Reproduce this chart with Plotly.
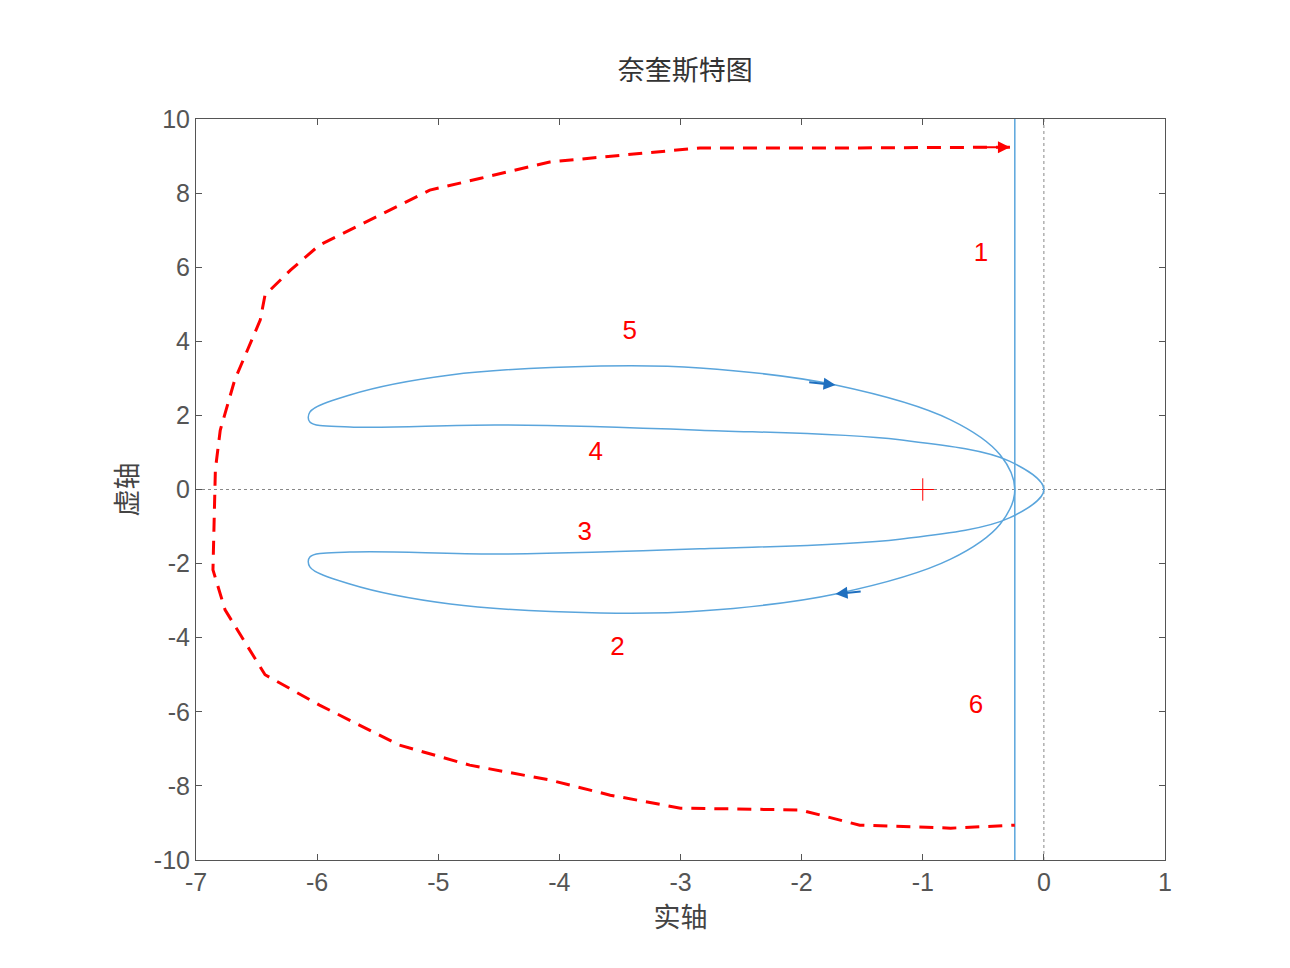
import plotly.graph_objects as go

# blue Nyquist curve (upper half, from origin outward); lower half is mirror
up_x = [0, -0.28, -1.19, -2.84, -4.49, -5.73, -6.06, -6.06, -5.73, -4.9, -3.66, -2.84, -1.72, -0.77, -0.36, -0.24]
up_y = [0, 0.76, 1.34, 1.6, 1.74, 1.69, 1.82, 2.09, 2.55, 3.09, 3.33, 3.28, 2.82, 1.88, 0.93, 0]

red_x = [-0.28, -1.52, -2.84, -3.25, -4.08, -4.65, -5.07, -5.48, -5.98, -6.22, -6.43, -6.47, -6.68, -6.8, -6.84,
         -6.86, -6.76, -6.43, -5.98, -5.32, -4.74, -4.08, -3.58, -3.0, -2.01, -1.52, -0.77, -0.24]
red_y = [9.24, 9.22, 9.22, 9.1, 8.84, 8.4, 8.08, 7.41, 6.6, 5.92, 5.25, 4.57, 2.96, 1.6, 0.54,
         -2.17, -3.25, -5.0, -5.82, -6.9, -7.44, -7.84, -8.25, -8.6, -8.65, -9.06, -9.14, -9.06]

labels = ["1", "5", "4", "3", "2", "6"]
lab_x = [-0.52, -3.42, -3.7, -3.79, -3.52, -0.56]
lab_y = [6.33, 4.25, 0.98, -1.2, -4.3, -5.87]

x_ticks = [-7, -6, -5, -4, -3, -2, -1, 0, 1]
y_ticks = [-10, -8, -6, -4, -2, 0, 2, 4, 6, 8, 10]

vline_x = -0.24
blue = "#5aa5dc"

lo_x = up_x[::-1]
lo_y = [-v for v in up_y[::-1]]
curve_x = lo_x + up_x[1:]
curve_y = lo_y + up_y[1:]

fig = go.Figure()
fig.add_trace(go.Scatter(x=[0, 0], y=[-10, 10], mode="lines", line=dict(color="#888", dash="dot", width=1)))
fig.add_trace(go.Scatter(x=[-7, 1], y=[0, 0], mode="lines", line=dict(color="#888", dash="dot", width=1)))
fig.add_trace(go.Scatter(x=curve_x, y=curve_y, mode="lines", line=dict(color=blue, width=1.5, shape="spline")))
fig.add_trace(go.Scatter(x=[vline_x, vline_x], y=[-10, 10], mode="lines", line=dict(color=blue, width=1.5)))
fig.add_trace(go.Scatter(x=red_x, y=red_y, mode="lines", line=dict(color="red", width=3, dash="14px,9px")))
fig.add_trace(go.Scatter(x=[-1], y=[0], mode="markers", marker=dict(symbol="cross-thin", size=16, line=dict(color="red", width=1))))
fig.add_trace(go.Scatter(x=lab_x, y=lab_y, mode="text", text=labels, textfont=dict(color="red", size=26, family="Liberation Sans")))

arrows = [(-1.72, 2.82, -1.95, 2.9, "#1f6fbf"), (-1.72, -2.82, -1.5, -2.75, "#1f6fbf"), (red_x[0], red_y[0], red_x[0] - 0.3, red_y[0], "red")]
for ax_, ay_, bx, by, c in arrows:
    fig.add_annotation(x=ax_, y=ay_, ax=bx, ay=by, xref="x", yref="y", axref="x", ayref="y",
                       showarrow=True, arrowhead=2, arrowsize=1.2, arrowwidth=2, arrowcolor=c, text="")

axis = dict(showgrid=False, zeroline=False, mirror="ticks", ticks="inside", ticklen=6, showline=True,
            linecolor="#555", linewidth=1, tickcolor="#555", tickfont=dict(size=25, color="#555", family="Liberation Sans"))
fig.update_layout(
    width=1290, height=968, showlegend=False, plot_bgcolor="white", paper_bgcolor="white",
    margin=dict(l=188, r=133, t=111, b=116),
    title=dict(text="奈奎斯特图", x=0.525, y=0.945, xanchor="center", font=dict(size=27, color="#333", family="Noto Sans CJK SC")),
    xaxis=dict(axis, range=[-7, 1], tickvals=x_ticks, ticktext=[str(v) for v in x_ticks],
               title=dict(text="实轴", font=dict(size=27, color="#444", family="Noto Sans CJK SC"), standoff=2)),
    yaxis=dict(axis, range=[-10, 10], tickvals=y_ticks, ticktext=[str(v) for v in y_ticks],
               title=dict(text="虚轴", font=dict(size=27, color="#444", family="Noto Sans CJK SC"), standoff=8)),
)
fig.write_html("out.html")
